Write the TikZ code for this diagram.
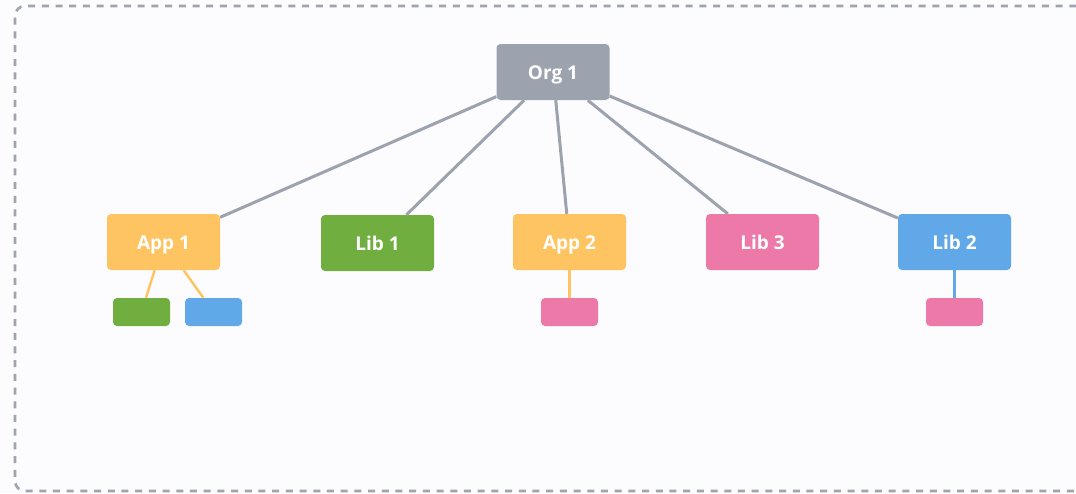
\documentclass[tikz,border=0pt]{standalone}
\usepackage{fontspec}
\setmainfont{Open Sans}
\definecolor{bgc}{HTML}{FCFCFE}
\definecolor{orgc}{HTML}{9CA3AF}
\definecolor{appc}{HTML}{FFC462}
\definecolor{libg}{HTML}{70AE40}
\definecolor{pinkc}{HTML}{EC79A8}
\definecolor{bluec}{HTML}{60A8E8}
\definecolor{framec}{HTML}{A0A4B0}
\begin{document}
\begin{tikzpicture}[x=1pt,y=-1pt,
  box/.style={rounded corners=4pt, minimum width=113pt, minimum height=56pt, inner sep=0pt,
    text=white, text height=14pt, text depth=0pt, font=\fontsize{19}{22}\selectfont\bfseries},
  small/.style={rounded corners=4pt, minimum width=57pt, minimum height=28pt, inner sep=0pt},
  orgedge/.style={draw=orgc, line width=3pt},
  subedge/.style={line width=2.4pt}]
\useasboundingbox (0,0) rectangle (1076,493);
\fill[bgc] (0,0) rectangle (1076,493);
\draw[framec, line width=2.6pt, dash pattern=on 7pt off 6.7pt, rounded corners=10pt]
  (1090,6) -- (15,6) -- (15,491) -- (1090,491);
% nodes
\node[box, fill=orgc] (org) at (553,72) {Org 1};
\node[box, fill=appc] (app1) at (163.5,242) {App 1};
\node[box, fill=libg] (lib1) at (377.5,243) {Lib 1};
\node[box, fill=appc] (app2) at (569.5,242) {App 2};
\node[box, fill=pinkc] (lib3) at (762.5,242) {Lib 3};
\node[box, fill=bluec] (lib2) at (954.5,242) {Lib 2};
\node[small, fill=libg] (s1) at (141.5,312) {};
\node[small, fill=bluec] (s2) at (213.5,312) {};
\node[small, fill=pinkc] (s3) at (569.5,312) {};
\node[small, fill=pinkc] (s4) at (954.5,312) {};
% edges
\draw[orgedge] (org) -- (app1);
\draw[orgedge] (org) -- (lib1);
\draw[orgedge] (org) -- (app2);
\draw[orgedge] (org) -- (lib3);
\draw[orgedge] (org) -- (lib2);
\draw[subedge, appc] (app1) -- (s1);
\draw[subedge, appc] (app1) -- (s2);
\draw[subedge, appc] (app2) -- (s3);
\draw[subedge, bluec] (lib2) -- (s4);
\end{tikzpicture}
\end{document}
